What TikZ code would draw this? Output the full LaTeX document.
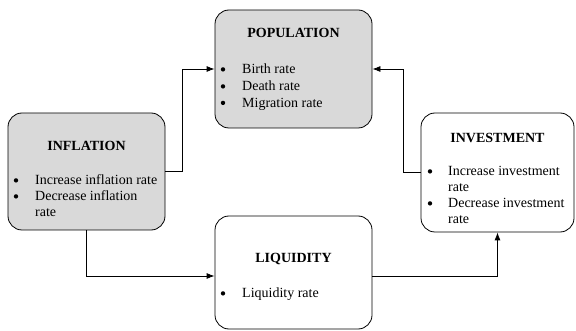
\documentclass[tikz,border=0pt]{standalone}
\usepackage{fontspec}
\setmainfont{Liberation Serif}
\usetikzlibrary{arrows.meta}
\begin{document}
\begin{tikzpicture}[x=1pt,y=-1pt,
  box/.style={draw=black,line width=0.8pt,rounded corners=14pt,inner sep=0pt},
  graybox/.style={box,fill=black!15},
  whitebox/.style={box,fill=white},
  ttl/.style={font=\fontsize{14}{16}\selectfont\bfseries,anchor=base,inner sep=0pt},
  txt/.style={font=\fontsize{14}{16}\selectfont,anchor=base west,inner sep=0pt},
  bul/.style={circle,fill=black,inner sep=0pt,minimum size=4.4pt,yshift=4.6pt},
  arr/.style={line width=0.8pt,-{Latex[length=8pt,width=6pt]}}]
\useasboundingbox (0,0) rectangle (576,331);
% boxes
\node[graybox,minimum width=157pt,minimum height=118pt] (pop) at (293.5,69) {};
\node[graybox,minimum width=157pt,minimum height=117pt] (infl) at (86.5,171.5) {};
\node[whitebox,minimum width=153pt,minimum height=119pt] (inv) at (497.5,172.5) {};
\node[whitebox,minimum width=157pt,minimum height=113pt] (liq) at (293.5,272.5) {};
% population text
\node[ttl] (popt) at (293.5,38) {POPULATION};
\node[bul] (popb1) at (223,74) {};
\node[txt] (popl1) at (242,74) {Birth rate};
\node[bul] (popb2) at (223,91) {};
\node[txt] (popl2) at (242,91) {Death rate};
\node[bul] (popb3) at (223,107.5) {};
\node[txt] (popl3) at (242,107.5) {Migration rate};
% inflation text
\node[ttl] (inflt) at (86.5,151) {INFLATION};
\node[bul] (inflb1) at (16,185) {};
\node[txt] (infll1) at (35,185) {Increase inflation rate};
\node[bul] (inflb2) at (16,201) {};
\node[txt] (infll2) at (35,201) {Decrease inflation};
\node[txt] (infll3) at (35,217) {rate};
% investment text
\node[ttl] (invt) at (497.5,143) {INVESTMENT};
\node[bul] (invb1) at (430,176) {};
\node[txt] (invl1) at (448,176) {Increase investment};
\node[txt] (invl2) at (448,192) {rate};
\node[bul] (invb2) at (430,208) {};
\node[txt] (invl3) at (448,208) {Decrease investment};
\node[txt] (invl4) at (448,224) {rate};
% liquidity text
\node[ttl] (liqt) at (293.5,263) {LIQUIDITY};
\node[bul] (liqb1) at (223,298) {};
\node[txt] (liql1) at (242,298) {Liquidity rate};
% connectors
\draw[arr] (infl.east) -- ++(17,0) |- (pop.west);
\draw[arr] (inv.west) -- ++(-17,0) |- (pop.east);
\draw[arr] (infl.south) |- ([yshift=-3.5pt]liq.west);
\draw[arr] ([yshift=-3.5pt]liq.east) -| (inv.south);
\end{tikzpicture}
\end{document}
